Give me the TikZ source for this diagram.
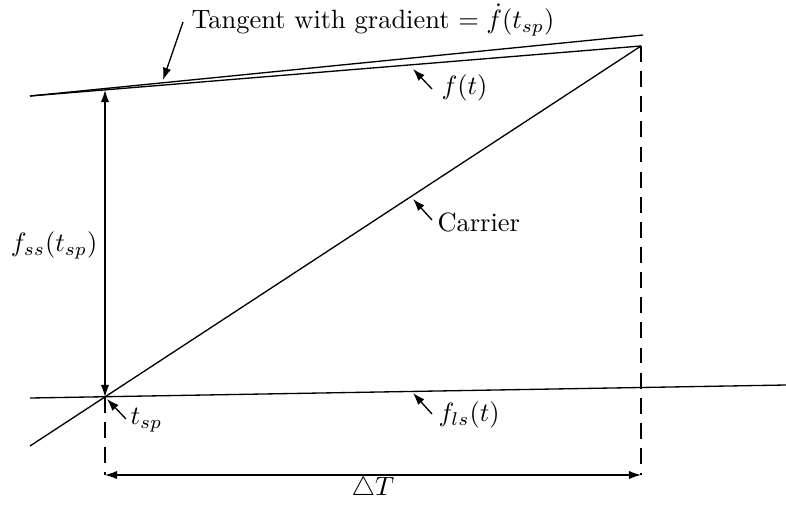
\documentclass[tikz,border=0pt]{standalone}
\usetikzlibrary{arrows.meta}
\begin{document}
\begin{tikzpicture}[x=0.378pt,y=-0.378pt,
  ln/.style={line width=0.5pt},
  arr/.style={line width=0.5pt,-{Latex[length=4.6pt,width=3.2pt]}},
  dbl/.style={line width=0.5pt,{Latex[length=4.6pt,width=3.2pt]}-{Latex[length=4.6pt,width=3.2pt]}},
  dsh/.style={line width=0.5pt,dash pattern=on 6pt off 3.5pt},
  lbl/.style={inner sep=0pt}]
\useasboundingbox (0,0) rectangle (786,505);
% key points
\coordinate (L) at (30,96);
\coordinate (Ftop) at (641,46);
\coordinate (Ttop) at (643,35);
\coordinate (S) at (105,397);
\coordinate (Ssup) at (105,90);
\coordinate (Cb) at (30,446);
\coordinate (Ll) at (30,398);
\coordinate (Lr) at (786,385);
\coordinate (Db1) at (105,475);
\coordinate (Db2) at (641,475);
% lines
\draw[ln] (L) -- (Ttop);
\draw[ln] (L) -- (Ftop);
\draw[ln] (Cb) -- (Ftop);
\draw[ln] (Ll) -- (Lr);
\draw[dbl] (Ssup) -- (S);
\draw[dsh] (S) -- (Db1);
\draw[dsh] (Ftop) -- (Db2);
\draw[dbl] (Db1) -- (Db2);
% labels
\node[lbl,anchor=west] (tg) at (191,20) {Tangent with gradient $=\dot f(t_{sp})$};
\coordinate (tgtip) at (163,80);
\draw[arr] (183,22) -- (tgtip);
\node[lbl,anchor=west] (ft) at (441,88) {$f(t)$};
\draw[arr] (432,89) -- (413,69);
\node[lbl,anchor=west] (car) at (437,222) {Carrier};
\draw[arr] (432,220) -- (413,199);
\node[lbl,anchor=west] (tsp) at (130,420) {$t_{sp}$};
\draw[arr] (126,419) -- (107,399);
\node[lbl,anchor=west] (fls) at (438,415) {$f_{ls}(t)$};
\draw[arr] (432,414) -- (413,393);
\node[lbl,anchor=east] (fss) at (98,245) {$f_{ss}(t_{sp})$};
\node[lbl] (dT) at (373,489) {$\triangle T$};
\end{tikzpicture}
\end{document}
